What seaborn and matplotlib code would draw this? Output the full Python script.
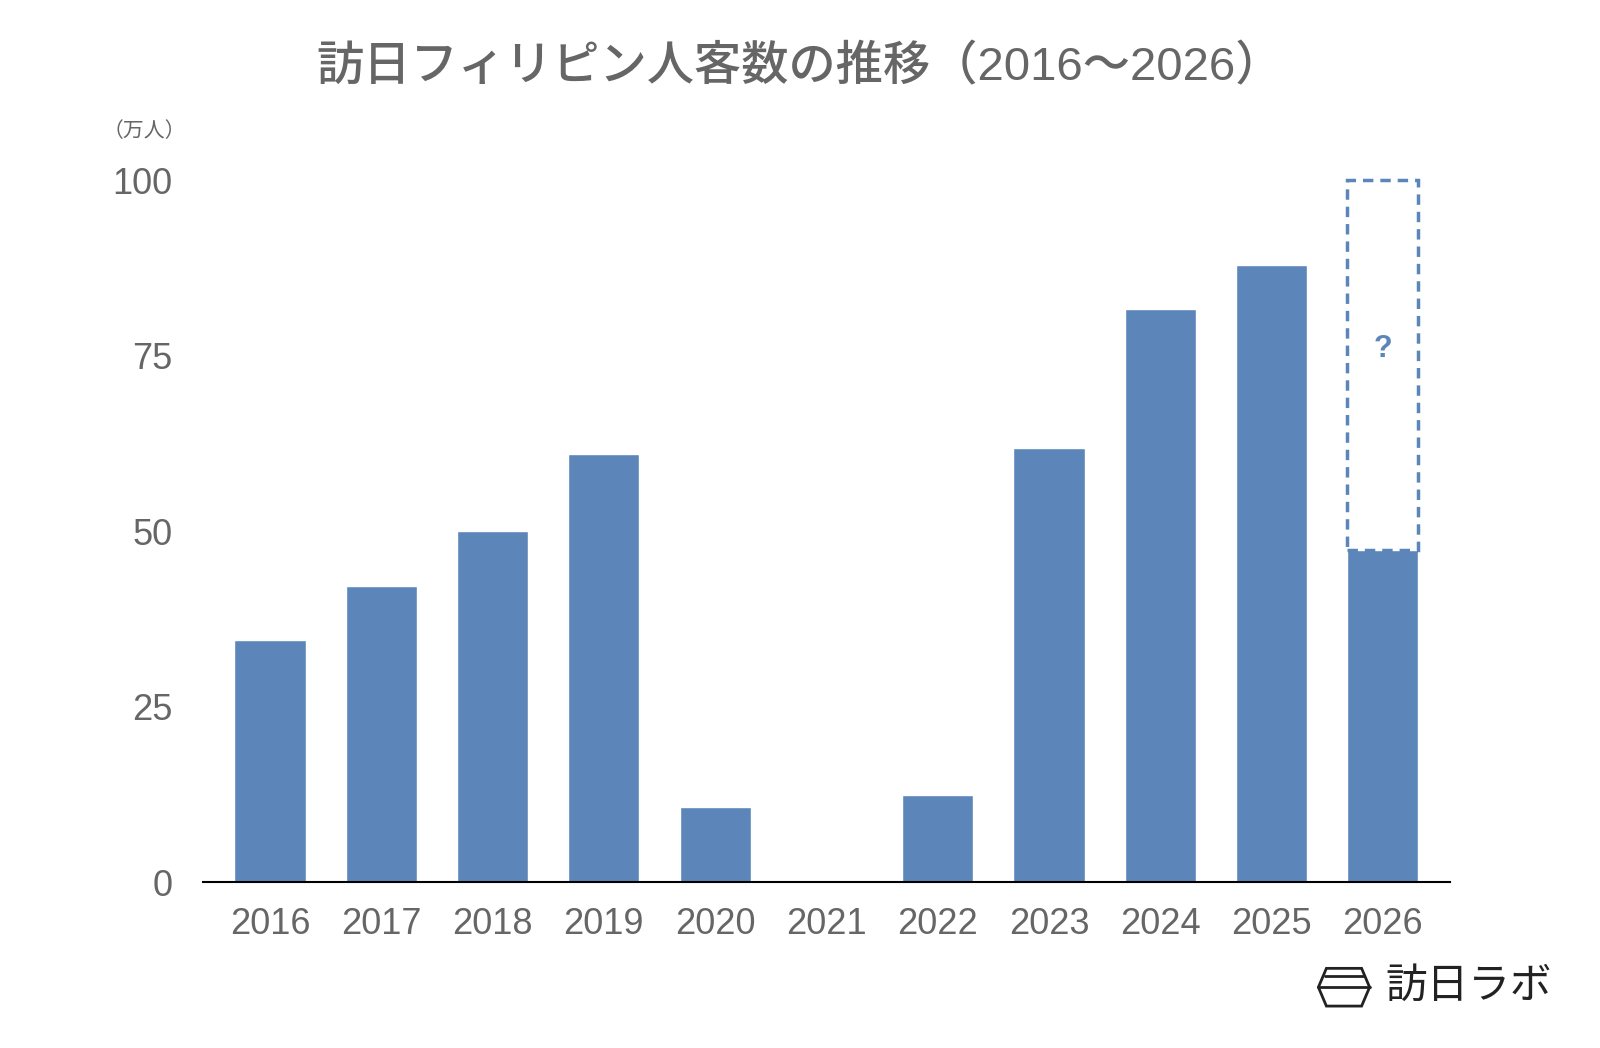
import matplotlib
matplotlib.use('Agg')
import matplotlib.pyplot as plt
import seaborn as sns
import pandas as pd
from matplotlib.patches import Polygon

years = ['2016', '2017', '2018', '2019', '2020', '2021', '2022', '2023', '2024', '2025', '2026']
visitors = [34.5, 42.2, 50.0, 61.0, 10.8, 0.4, 12.5, 61.8, 81.6, 88.0, 47.4]
forecast_top = 100

sns.set_theme(style='white')
plt.rcParams['font.family'] = ['Liberation Sans', 'Noto Sans CJK JP', 'DejaVu Sans']

blue = '#5c86b9'
grey = '#666666'

df = pd.DataFrame({'year': years, 'visitors': visitors})
fig = plt.figure(figsize=(16, 10.48), dpi=100)
ax = fig.add_axes([0.127, 0.158, 0.779, 0.67])
sns.barplot(data=df, x='year', y='visitors', color=blue, saturation=1, width=0.64, ax=ax)

# dashed forecast box for 2026
last = len(years) - 1
ax.bar(last, forecast_top - visitors[-1], bottom=visitors[-1], width=0.64, fill=False,
       edgecolor=blue, linestyle=(0, (3, 2)), linewidth=2.5, clip_on=False)
ax.text(last, 76, '?', color=blue, fontsize=22, fontweight='bold', ha='center', va='center')

ax.set_ylim(0, 100)
ax.set_xlim(-0.6, len(years) - 0.4)
ax.set_yticks([0, 25, 50, 75, 100])
ax.set_xlabel('')
ax.set_ylabel('')
for s in ['top', 'right', 'left']:
    ax.spines[s].set_visible(False)
ax.spines['bottom'].set_color('black')
ax.spines['bottom'].set_linewidth(1.5)
ax.tick_params(axis='both', length=0, labelsize=26, labelcolor=grey)
ax.tick_params(axis='x', pad=18)
ax.tick_params(axis='y', pad=22)

fig.text(0.5, 0.935, '訪日フィリピン人客数の推移（2016～2026）', ha='center', va='center',
         fontsize=34, color=grey, fontweight='medium')
fig.text(0.09, 0.875, '（万人）', ha='center', va='center', fontsize=15, color=grey)

# logo
hx, hy = 0.84, 0.058
hexagon = Polygon([[hx - 0.011, hy + 0.018], [hx + 0.011, hy + 0.018], [hx + 0.016, hy],
                   [hx + 0.011, hy - 0.018], [hx - 0.011, hy - 0.018], [hx - 0.016, hy]],
                  closed=True, fill=False, edgecolor='#222222', linewidth=2, transform=fig.transFigure)
fig.patches.append(hexagon)
fig.lines.append(plt.Line2D([hx - 0.016, hx + 0.016], [hy, hy], color='#222222', lw=2, transform=fig.transFigure))
fig.lines.append(plt.Line2D([hx - 0.012, hx + 0.012], [hy + 0.011, hy + 0.011], color='#222222', lw=2, transform=fig.transFigure))
fig.text(0.866, 0.058, '訪日ラボ', ha='left', va='center', fontsize=30, color='#222222')

fig.savefig('out.png', dpi=100)
